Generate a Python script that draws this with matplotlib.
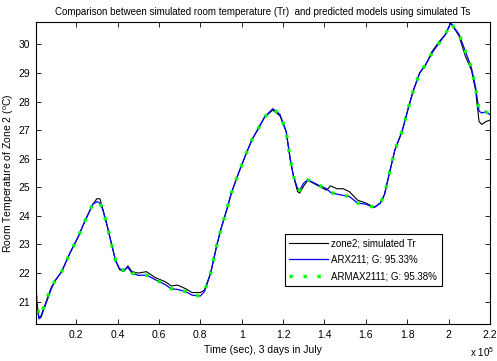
import numpy as np
import matplotlib
matplotlib.use("Agg")
import matplotlib.pyplot as plt

plt.rcParams['font.family'] = ['Liberation Sans', 'DejaVu Sans']
plt.rcParams['mathtext.fontset'] = 'custom'
plt.rcParams['mathtext.rm'] = 'Liberation Sans'
plt.rcParams['mathtext.it'] = 'Liberation Sans'
plt.rcParams['mathtext.default'] = 'regular'

# time in units of 1e5 seconds
t5 = [0.005, 0.01, 0.02, 0.03, 0.05, 0.08, 0.10, 0.13, 0.17, 0.21, 0.24, 0.28,
      0.30, 0.315, 0.33, 0.35, 0.37, 0.39, 0.41, 0.43, 0.45, 0.47, 0.50, 0.54,
      0.58, 0.63, 0.66, 0.69, 0.73, 0.76, 0.80, 0.82, 0.85, 0.88, 0.90, 0.93,
      0.95, 0.985, 1.02, 1.05, 1.08, 1.11, 1.15, 1.185, 1.215, 1.235, 1.25,
      1.27, 1.28, 1.30, 1.32, 1.37, 1.41, 1.43, 1.46, 1.49, 1.52, 1.56, 1.60,
      1.64, 1.67, 1.69, 1.71, 1.74, 1.775, 1.81, 1.83, 1.86, 1.89, 1.92, 1.955,
      1.985, 2.01, 2.05, 2.08, 2.11, 2.13, 2.147, 2.16, 2.18, 2.20]

zone2 = [22.2, 21.0, 20.45, 20.5, 20.9, 21.5, 21.75, 22.05, 22.7, 23.27, 23.78, 24.4,
         24.6, 24.6, 24.2, 23.65, 23.05, 22.45, 22.12, 22.05, 22.25, 22.05, 22.0, 22.05,
         21.85, 21.7, 21.55, 21.58, 21.45, 21.32, 21.32, 21.4, 22.0, 22.98, 23.55, 24.27,
         24.8, 25.5, 26.15, 26.67, 27.05, 27.45, 27.7, 27.5, 26.95, 25.96, 25.4,
         24.85, 24.8, 25.05, 25.25, 25.05, 24.9, 25.05, 24.95, 24.95, 24.85, 24.55, 24.45,
         24.3, 24.45, 24.75, 25.38, 26.3, 26.96, 27.9, 28.4, 29.0, 29.3, 29.75, 30.1,
         30.35, 30.75, 30.3, 29.6, 29.1, 28.4, 27.3, 27.2, 27.3, 27.35]

arx211 = [21.3, 20.9, 20.4, 20.45, 20.85, 21.45, 21.75, 22.05, 22.7, 23.27, 23.78, 24.4,
          24.5, 24.45, 24.2, 23.65, 23.05, 22.45, 22.15, 22.1, 22.2, 22.0, 21.92, 21.93,
          21.78, 21.6, 21.45, 21.43, 21.35, 21.23, 21.2, 21.35, 22.0, 22.98, 23.55, 24.27,
          24.8, 25.5, 26.15, 26.67, 27.05, 27.45, 27.75, 27.55, 26.95, 25.96, 25.4,
          24.95, 24.9, 25.15, 25.26, 25.08, 24.95, 24.82, 24.76, 24.72, 24.68, 24.45, 24.41,
          24.29, 24.45, 24.75, 25.38, 26.3, 26.96, 27.9, 28.4, 29.0, 29.3, 29.7, 30.06,
          30.35, 30.75, 30.35, 29.77, 29.18, 28.5, 27.66, 27.6, 27.64, 27.54]

armax2111 = [21.2, 21.0, 20.5, 20.55, 20.95, 21.5, 21.75, 22.05, 22.7, 23.27, 23.78, 24.4,
             24.5, 24.45, 24.2, 23.65, 23.05, 22.45, 22.15, 22.1, 22.2, 22.0, 21.92, 21.93,
             21.78, 21.6, 21.45, 21.43, 21.35, 21.23, 21.2, 21.35, 22.0, 22.98, 23.55, 24.27,
             24.8, 25.5, 26.15, 26.67, 27.05, 27.45, 27.75, 27.55, 26.95, 25.96, 25.4,
             24.95, 24.9, 25.15, 25.26, 25.08, 24.95, 24.82, 24.76, 24.72, 24.68, 24.45, 24.41,
             24.29, 24.45, 24.75, 25.38, 26.3, 26.96, 27.9, 28.4, 29.0, 29.3, 29.7, 30.06,
             30.35, 30.75, 30.35, 29.77, 29.18, 28.5, 27.66, 27.6, 27.64, 27.54]

xticks5 = [0.2, 0.4, 0.6, 0.8, 1.0, 1.2, 1.4, 1.6, 1.8, 2.0, 2.2]
xticklabels = ['0.2', '0.4', '0.6', '0.8', '1', '1.2', '1.4', '1.6', '1.8', '2', '2.2']
yticks = [21, 22, 23, 24, 25, 26, 27, 28, 29, 30]

t = np.array(t5) * 1e5

fig = plt.figure(figsize=(4.97, 3.61), dpi=100)
ax = fig.add_axes([0.0724, 0.1025, 0.9136, 0.8365])

ax.plot(t, zone2, color='black', lw=0.8, label='zone2; simulated Tr')
ax.plot(t, arx211, color='blue', lw=0.9, label='ARX211; G: 95.33%')
ax.plot(t, armax2111, color=(0, 1, 0), lw=2.4, linestyle=(0, (1, 3.2)),
        label='ARMAX2111; G: 95.38%')

ax.set_xlim(600, 2.2e5)
ax.set_ylim(20.22, 30.78)
ax.set_xticks(np.array(xticks5) * 1e5)
ax.set_xticklabels(xticklabels)
ax.set_yticks(yticks)
ax.tick_params(direction='in', length=3.5, width=0.6, labelsize=7.5,
               top=True, right=True, pad=4, colors='black')
for s in ax.spines.values():
    s.set_linewidth(0.8)

ax.set_xlabel('Time (sec), 3 days in July', fontsize=7.5, labelpad=4)
ax.set_ylabel('Room Temperature of Zone 2 ($^{o}$C)', fontsize=7.5)
ax.yaxis.set_label_coords(-0.045, 0.5)
ax.set_title('Comparison between simulated room temperature (Tr)  and predicted models using simulated Ts',
             fontsize=7, pad=5)
fig.text(0.945, 0.01, 'x 10$^{5}$', fontsize=7)

leg = ax.legend(loc='lower right', bbox_to_anchor=(0.894, 0.126), fontsize=7,
                frameon=True, fancybox=False, edgecolor='black', framealpha=1,
                handlelength=4, handletextpad=0.3, borderpad=0.5, labelspacing=0.65,
                borderaxespad=0)
leg.get_frame().set_linewidth(0.8)

fig.savefig('out.png', dpi=100)
